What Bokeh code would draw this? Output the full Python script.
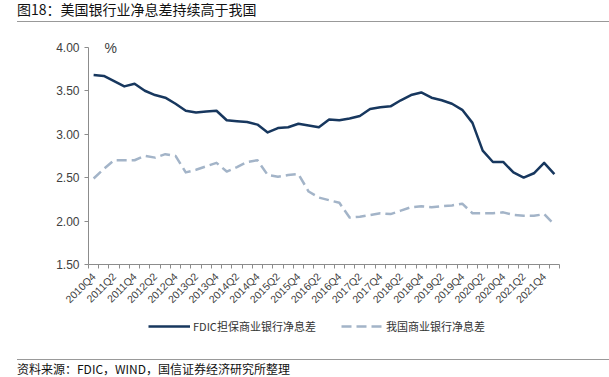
from bokeh.plotting import figure
from bokeh.layouts import column
from bokeh.models import (Range1d, FixedTicker, NumeralTickFormatter, Label,
                          Legend, LegendItem, ColumnDataSource, Div)
from bokeh.embed import file_html
from bokeh.resources import INLINE

# ---------------- data ----------------
quarters = [
    "2010Q4",
    "2011Q1", "2011Q2", "2011Q3", "2011Q4",
    "2012Q1", "2012Q2", "2012Q3", "2012Q4",
    "2013Q1", "2013Q2", "2013Q3", "2013Q4",
    "2014Q1", "2014Q2", "2014Q3", "2014Q4",
    "2015Q1", "2015Q2", "2015Q3", "2015Q4",
    "2016Q1", "2016Q2", "2016Q3", "2016Q4",
    "2017Q1", "2017Q2", "2017Q3", "2017Q4",
    "2018Q1", "2018Q2", "2018Q3", "2018Q4",
    "2019Q1", "2019Q2", "2019Q3", "2019Q4",
    "2020Q1", "2020Q2", "2020Q3", "2020Q4",
    "2021Q1", "2021Q2", "2021Q3", "2021Q4",
    "2022Q1",
]

fdic_nim = [
    3.68, 3.67, 3.61, 3.55, 3.58, 3.50, 3.45, 3.42, 3.35, 3.27,
    3.25, 3.26, 3.27, 3.16, 3.15, 3.14, 3.11, 3.02, 3.07, 3.08,
    3.12, 3.10, 3.08, 3.17, 3.16, 3.18, 3.21, 3.29, 3.31, 3.32,
    3.39, 3.45, 3.48, 3.42, 3.39, 3.35, 3.28, 3.13, 2.81, 2.68,
    2.68, 2.56, 2.50, 2.55, 2.67, 2.54,
]

china_nim = [
    2.49, 2.60, 2.70, 2.70, 2.70, 2.75, 2.73, 2.77, 2.75, 2.56,
    2.59, 2.63, 2.67, 2.57, 2.62, 2.68, 2.70, 2.53, 2.51, 2.53,
    2.54, 2.34, 2.27, 2.24, 2.21, 2.04, 2.05, 2.07, 2.09, 2.08,
    2.12, 2.16, 2.17, 2.16, 2.17, 2.18, 2.20, 2.09, 2.09, 2.09,
    2.10, 2.07, 2.06, 2.06, 2.08, 1.96,
]

y_ticks = [1.5, 2.0, 2.5, 3.0, 3.5, 4.0]

series_names = ["FDIC担保商业银行净息差", "我国商业银行净息差"]
title_text = "图18：美国银行业净息差持续高于我国"
source_text = "资料来源：FDIC，WIND，国信证券经济研究所整理"
unit_text = "%"

# ---------------- styles ----------------
W = 609
TOP_H = 30          # title strip
MAIN_BOTTOM = 312   # page y where the chart (incl. x labels) ends
LEG_H = 28          # legend strip
BOT_H = 377 - MAIN_BOTTOM - LEG_H
FRAME_L, FRAME_R = 88, 559          # page px
FRAME_T, FRAME_B = 47, 267          # page px of y=4.00 and y=1.50
axis_color = "#8c8c8c"
label_color = "#404040"
navy = "#17375E"
grey_blue = "#A3B4C8"
cjk = "Noto Sans CJK SC"

# ---------------- top strip: title + rule ----------------
top_html = (
    f'<div style="position:relative;width:{W}px;height:{TOP_H}px;">'
    f'<div style="position:absolute;left:17px;top:0px;font-family:\'{cjk}\';'
    f'font-size:14px;line-height:18px;color:#111111;white-space:nowrap;">{title_text}</div>'
    f'<div style="position:absolute;left:17px;width:{W - 17}px;top:21px;'
    f'border-top:1px solid #999999;"></div></div>'
)
top = Div(text=top_html, width=W, height=TOP_H, margin=0)

# ---------------- main chart ----------------
n = len(quarters)
xs = list(range(n))
x0, x1 = -0.5, n - 0.5
y0, y1 = 1.5, 4.0
px_per_y = (FRAME_B - FRAME_T) / (y1 - y0)
y_top = y1 + (FRAME_T - TOP_H) / px_per_y    # frame reaches up to the strip

main_h = MAIN_BOTTOM - TOP_H
MB = MAIN_BOTTOM - FRAME_B
p = figure(width=W, height=main_h, output_backend="svg", toolbar_location=None,
           x_range=Range1d(x0, x1), y_range=Range1d(y0, y_top),
           min_border_left=FRAME_L, min_border_right=W - FRAME_R,
           min_border_top=0, min_border_bottom=MB)
p.outline_line_color = None
p.grid.visible = False

xa = p.xaxis[0]
xa.ticker = FixedTicker(ticks=list(range(0, n, 2)),
                        minor_ticks=[i - 0.5 for i in range(n + 1)])
xa.major_label_overrides = {i: quarters[i] for i in range(0, n, 2)}
xa.major_label_orientation = 0.785398
xa.major_tick_out = 0
xa.major_tick_in = 0
xa.minor_tick_out = 4
xa.minor_tick_in = 0
xa.axis_line_color = axis_color
xa.minor_tick_line_color = axis_color
xa.major_label_text_font = "Liberation Sans"
xa.major_label_text_font_size = "10.5px"
xa.major_label_text_color = label_color
xa.major_label_standoff = 6

ya = p.yaxis[0]
ya.bounds = (y0, y1)
ya.ticker = FixedTicker(ticks=y_ticks)
ya.formatter = NumeralTickFormatter(format="0.00")
ya.major_tick_out = 4
ya.major_tick_in = 0
ya.minor_tick_out = 0
ya.minor_tick_in = 0
ya.axis_line_color = axis_color
ya.major_tick_line_color = axis_color
ya.major_label_text_font = "Liberation Sans"
ya.major_label_text_font_size = "12px"
ya.major_label_text_color = label_color
ya.major_label_standoff = 5

src = ColumnDataSource(dict(x=xs, fdic=fdic_nim, cn=china_nim))
line1 = dict(line_color=navy, line_width=2.5, line_join="round")
line2 = dict(line_color=grey_blue, line_width=2.5, line_dash="10 5", line_join="round")
p.line("x", "fdic", source=src, **line1)
p.line("x", "cn", source=src, **line2)

px_per_x = (FRAME_R - FRAME_L) / (x1 - x0)
p.add_layout(Label(x=x0 + (104 - FRAME_L) / px_per_x, y=y1 + (FRAME_T - 48) / px_per_y,
                   text=unit_text, text_font="Liberation Sans", text_font_size="14px",
                   text_color=label_color, text_baseline="middle", text_align="left"))

# ---------------- legend strip ----------------
leg = figure(width=W, height=LEG_H, output_backend="svg", toolbar_location=None,
             x_range=Range1d(x0, x1), y_range=Range1d(100, 101),
             min_border_left=FRAME_L, min_border_right=W - FRAME_R,
             min_border_top=0, min_border_bottom=0,
             x_axis_location=None, y_axis_location=None)
leg.outline_line_color = None
leg.grid.visible = False
k1 = leg.line("x", "fdic", source=src, **line1)   # same series, out of view
k2 = leg.line("x", "cn", source=src, **line2)
legend = Legend(items=[LegendItem(label=series_names[0], renderers=[k1]),
                       LegendItem(label=series_names[1], renderers=[k2])],
                location=(148 - FRAME_L, LEG_H - (326 - MAIN_BOTTOM) - 10),
                orientation="horizontal",
                glyph_width=42, glyph_height=20, label_height=20,
                label_standoff=3, spacing=25, padding=0, margin=0,
                border_line_alpha=0, background_fill_alpha=0,
                label_text_font=cjk, label_text_font_size="11px",
                label_text_color="#333333")
leg.add_layout(legend)

# ---------------- bottom strip: rule + source ----------------
rule_y = 359 - MAIN_BOTTOM - LEG_H
bot_html = (
    f'<div style="position:relative;width:{W}px;height:{BOT_H}px;">'
    f'<div style="position:absolute;left:17px;width:{W - 17}px;top:{rule_y}px;'
    f'border-top:1px solid #999999;"></div>'
    f'<div style="position:absolute;left:17px;top:{rule_y + 3}px;font-family:\'{cjk}\';'
    f'font-size:12px;line-height:14px;color:#111111;white-space:nowrap;">{source_text}</div>'
    f'</div>'
)
bot = Div(text=bot_html, width=W, height=BOT_H, margin=0)

layout = column(top, p, leg, bot, spacing=0)
open("out.html", "w").write(file_html(layout, INLINE))
